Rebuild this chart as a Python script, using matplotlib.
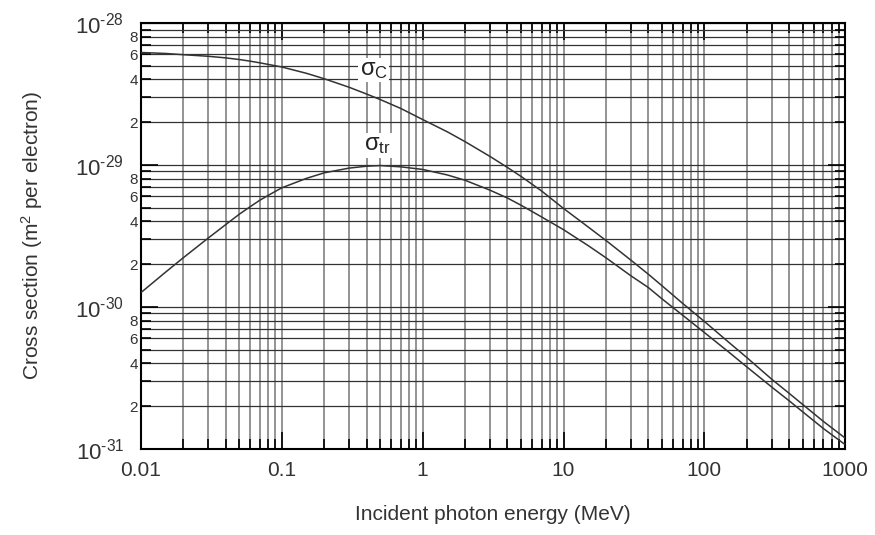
import matplotlib
matplotlib.use("Agg")
import matplotlib.pyplot as plt
from matplotlib.ticker import LogLocator, FixedLocator, FixedFormatter, NullFormatter

plt.rcParams['font.family'] = ['Liberation Sans', 'DejaVu Sans']
plt.rcParams['mathtext.fontset'] = 'custom'
plt.rcParams['mathtext.rm'] = 'Liberation Sans'
plt.rcParams['mathtext.it'] = 'Liberation Sans:italic'

# photon energy (MeV)
energy = [0.01, 0.015, 0.02, 0.03, 0.04, 0.05, 0.06, 0.07, 0.08, 0.1, 0.15,
          0.2, 0.3, 0.4, 0.5, 0.7, 1, 1.5, 2, 3, 4, 5, 7, 10, 15, 20, 30,
          40, 50, 70, 100, 150, 200, 300, 400, 500, 700, 1000]

# total Compton cross section, units of 1e-29 m^2 per electron
sigma_c = [6.2, 6.1, 5.98, 5.83, 5.68, 5.53, 5.38, 5.24, 5.11, 4.9, 4.42,
           4.05, 3.53, 3.16, 2.89, 2.50, 2.09, 1.71, 1.46, 1.15, 0.96, 0.83,
           0.655, 0.494, 0.365, 0.294, 0.214, 0.170, 0.141, 0.106, 0.079,
           0.056, 0.044, 0.031, 0.0246, 0.0205, 0.0156, 0.0119]

# energy transfer cross section, units of 1e-29 m^2 per electron
sigma_tr = [0.126, 0.176, 0.222, 0.305, 0.38, 0.45, 0.51, 0.565, 0.61, 0.69,
            0.805, 0.88, 0.95, 0.98, 0.99, 0.97, 0.93, 0.85, 0.78, 0.665,
            0.585, 0.52, 0.43, 0.35, 0.27, 0.222, 0.166, 0.137, 0.114, 0.0875,
            0.066, 0.0478, 0.0378, 0.0273, 0.0218, 0.0182, 0.0139, 0.0107]

x_ticks = [0.01, 0.1, 1, 10, 100, 1000]
x_labels = ['0.01', '0.1', '1', '10', '100', '1000']
y_major = [1e-31, 1e-30, 1e-29, 1e-28]
y_major_labels = [r'$10^{\text{-31}}$', r'$10^{\text{-30}}$',
                  r'$10^{\text{-29}}$', r'$10^{\text{-28}}$']
minor_digits = [2, 4, 6, 8]

fig = plt.figure(figsize=(8.75, 5.35), dpi=100)
ax = fig.add_axes([0.161, 0.161, 0.805, 0.796])

ax.plot(energy, [v * 1e-29 for v in sigma_c], color='#333333', lw=1.1, zorder=3)
ax.plot(energy, [v * 1e-29 for v in sigma_tr], color='#333333', lw=1.1, zorder=3)

ax.set_xscale('log')
ax.set_yscale('log')
ax.set_xlim(0.01, 1000)
ax.set_ylim(1e-31, 1e-28)

ax.xaxis.set_major_locator(FixedLocator(x_ticks))
ax.xaxis.set_major_formatter(FixedFormatter(x_labels))
ax.xaxis.set_minor_locator(LogLocator(base=10, subs=range(2, 10)))
ax.xaxis.set_minor_formatter(NullFormatter())

ax.yaxis.set_major_locator(FixedLocator(y_major))
ax.yaxis.set_major_formatter(FixedFormatter(y_major_labels))
y_minor = []
y_minor_labels = []
for dec in y_major[:-1]:
    for d in range(2, 10):
        y_minor.append(d * dec)
        y_minor_labels.append(str(d) if d in minor_digits else '')
ax.yaxis.set_minor_locator(FixedLocator(y_minor))
ax.yaxis.set_minor_formatter(FixedFormatter(y_minor_labels))

ax.grid(True, which='both', axis='y', color='#333333', lw=0.9)
ax.grid(True, which='both', axis='x', color='#777777', lw=1.1)
ax.set_axisbelow(True)

ax.tick_params(which='both', direction='in', top=True, right=True,
               color='black', width=1.2, labelcolor='#333333')
ax.tick_params(which='major', length=12)
ax.tick_params(which='minor', length=7)
ax.tick_params(axis='x', which='major', labelsize=15, pad=9)
ax.tick_params(axis='y', which='major', labelsize=16, pad=12)
ax.tick_params(axis='y', which='minor', labelsize=11, pad=2)

for s in ax.spines.values():
    s.set_linewidth(1.5)

ax.text(0.45, 4.67e-29, r'$\mathrm{\sigma}_{\mathrm{C}}$', fontsize=17,
        ha='center', va='center', color='#222222',
        bbox=dict(facecolor='white', edgecolor='none', pad=1), zorder=4)
ax.text(0.48, 1.38e-29, r'$\mathrm{\sigma}_{\mathrm{tr}}$', fontsize=17,
        ha='center', va='center', color='#222222',
        bbox=dict(facecolor='white', edgecolor='none', pad=1), zorder=4)

ax.set_xlabel('Incident photon energy (MeV)', fontsize=15, labelpad=18,
              color='#333333')
ax.set_ylabel(r'Cross section (m$^2$ per electron)', fontsize=15,
              labelpad=22, color='#333333')

fig.savefig('out.png', dpi=100)
